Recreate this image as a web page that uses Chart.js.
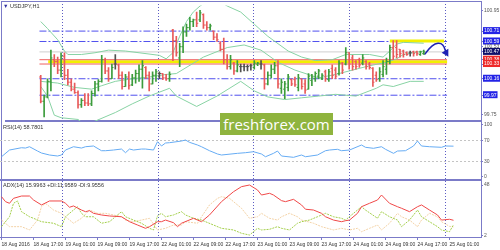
<!DOCTYPE html>
<html><head><meta charset="utf-8">
<script src="https://cdn.jsdelivr.net/npm/chart.js@4.4.0/dist/chart.umd.min.js"></script>
<style>
html,body{margin:0;padding:0;background:#fff;}
#wrap{position:relative;width:500px;height:250px;overflow:hidden;background:#fff;}
canvas{position:absolute;left:0;top:0;}
.lbl{position:absolute;font-family:'Liberation Sans',Arial,sans-serif;font-size:5.5px;line-height:7px;color:#333;white-space:nowrap;z-index:5;}
#wm{position:absolute;left:220px;top:113px;width:113px;height:22px;background:#8fb43e;color:#fff;font-family:'Open Sans',sans-serif;font-size:15px;line-height:22px;text-align:center;z-index:6;}
</style></head>
<body><div id="wrap">
<canvas id="c0" width="500" height="250"></canvas>
<canvas id="c1" width="500" height="250"></canvas>
<canvas id="c2" width="500" height="250"></canvas>
<canvas id="c3" width="500" height="250"></canvas>
<div class="lbl" style="left:3px;top:3px"><span style="color:#3030a0">▼</span> USDJPY,H1</div>
<div class="lbl" style="left:3px;top:124px">RSI(14) 58.7801</div>
<div class="lbl" style="left:3px;top:182px">ADX(14) 15.9963 +DI:11.9589 -DI:9.9556</div>
<div id="wm">freshforex.com</div>
</div>
<script>
// ---------- DATA ----------
const opens = [
100.18,99.90,99.95,100.13,100.38,100.36,100.26,100.42,100.20,100.12,
100.04,100.00,99.86,99.91,99.88,99.87,99.99,100.10,100.13,100.38,
100.25,100.16,100.33,100.32,100.20,100.07,100.18,100.09,100.17,100.22,
100.27,100.29,100.20,100.10,100.20,100.22,100.22,100.17,100.16,100.72,
100.60,100.40,100.53,100.70,100.75,100.82,100.84,100.84,100.90,100.78,
100.75,100.71,100.64,100.57,100.50,100.38,100.30,100.34,100.25,100.30,
100.30,100.30,100.31,100.29,100.33,100.33,100.32,100.10,100.20,100.27,
100.31,100.05,100.04,100.06,100.15,100.15,100.06,100.16,100.10,100.04,
100.14,100.16,100.19,100.16,100.24,100.15,100.28,100.26,100.22,100.34,
100.33,100.46,100.40,100.36,100.38,100.34,100.36,100.33,100.28,100.20,
100.16,100.21,100.27,100.36,100.52,100.52,100.50,100.48,100.46,100.46,
100.47,100.47,100.44,100.45];
const highs = [
100.20,99.97,100.16,100.49,100.44,100.41,100.46,100.46,100.27,100.16,
100.11,100.02,99.93,99.99,99.99,100.02,100.13,100.15,100.43,100.40,
100.29,100.33,100.44,100.33,100.24,100.21,100.24,100.21,100.26,100.32,
100.37,100.30,100.24,100.24,100.27,100.24,100.22,100.21,100.24,100.73,
100.65,100.57,100.76,100.79,100.87,100.85,100.93,100.95,100.91,100.82,
100.79,100.71,100.68,100.59,100.63,100.44,100.43,100.35,100.37,100.33,
100.33,100.32,100.33,100.37,100.35,100.37,100.33,100.24,100.32,100.35,
100.37,100.16,100.13,100.21,100.16,100.18,100.21,100.16,100.15,100.22,
100.21,100.24,100.27,100.22,100.26,100.27,100.32,100.29,100.37,100.35,
100.52,100.46,100.43,100.37,100.40,100.44,100.37,100.35,100.29,100.24,
100.29,100.37,100.40,100.55,100.60,100.60,100.50,100.49,100.47,100.48,
100.48,100.48,100.48,100.49];
const lows = [
99.88,99.72,99.94,100.02,100.30,100.22,100.18,100.15,100.09,100.02,
99.99,99.82,99.83,99.85,99.85,99.85,99.96,100.02,100.12,100.22,
100.13,100.16,100.27,100.16,100.04,100.07,100.04,100.08,100.11,100.13,
100.05,100.16,100.02,100.10,100.13,100.16,100.15,100.14,100.13,100.37,
100.42,100.30,100.46,100.65,100.72,100.76,100.76,100.82,100.74,100.72,
100.72,100.61,100.59,100.48,100.33,100.27,100.27,100.21,100.24,100.24,
100.25,100.25,100.26,100.27,100.31,100.27,100.04,100.09,100.17,100.22,
100.05,99.99,99.93,100.02,100.08,100.07,100.02,100.04,99.99,100.04,
100.08,100.13,100.16,100.15,100.13,100.13,100.16,100.16,100.20,100.22,
100.32,100.27,100.26,100.27,100.29,100.32,100.27,100.27,100.07,100.13,
100.13,100.18,100.21,100.33,100.38,100.40,100.41,100.41,100.43,100.42,
100.42,100.43,100.43,100.44];
const closes = [
99.90,99.95,100.13,100.40,100.36,100.26,100.42,100.20,100.12,100.04,
100.00,99.86,99.91,99.88,99.87,99.99,100.10,100.13,100.38,100.25,
100.16,100.29,100.33,100.20,100.07,100.18,100.08,100.17,100.22,100.27,
100.31,100.20,100.10,100.20,100.24,100.22,100.17,100.16,100.21,100.60,
100.46,100.53,100.70,100.75,100.82,100.84,100.80,100.92,100.78,100.75,
100.77,100.64,100.61,100.50,100.38,100.30,100.38,100.25,100.32,100.30,
100.30,100.30,100.31,100.34,100.34,100.33,100.10,100.20,100.27,100.31,
100.10,100.12,100.10,100.18,100.10,100.09,100.17,100.07,100.03,100.19,
100.18,100.22,100.25,100.20,100.16,100.24,100.20,100.19,100.34,100.26,
100.46,100.33,100.30,100.30,100.32,100.40,100.30,100.29,100.12,100.15,
100.24,100.30,100.36,100.52,100.42,100.44,100.45,100.44,100.44,100.46,
100.45,100.45,100.47,100.47];

// Bollinger bands [bar, price]
const bbUpper = [[0,100.82],[2,100.74],[5,100.61],[7,100.48],[8,100.44],[12,100.44],[16,100.46],[20,100.49],[25,100.48],[29,100.46],[35,100.43],[37,100.39],[39,100.46],[41,100.65],[43,100.82],[45,100.93],[47,101.00],[49,101.05],[52,101.07],[55,101.00],[59,100.93],[63,100.79],[67,100.65],[73,100.48],[77,100.41],[81,100.37],[86,100.38],[90,100.44],[97,100.44],[101,100.41],[103,100.48],[105,100.56],[107,100.58],[113,100.57]];
const bbMiddle = [[0,100.13],[5,100.11],[10,100.06],[15,100.04],[18,100.08],[22,100.13],[27,100.16],[32,100.18],[37,100.21],[40,100.22],[48,100.41],[55,100.52],[60,100.55],[65,100.49],[70,100.35],[75,100.26],[82,100.17],[87,100.21],[92,100.26],[97,100.31],[102,100.35],[105,100.39],[107,100.44],[113,100.48]];
const bbLower = [[0,100.07],[2,99.96],[4,99.74],[6,99.71],[11,99.69],[13,99.63],[16,99.67],[22,99.77],[27,99.87],[32,99.96],[38,100.05],[40,99.96],[46,99.84],[52,99.96],[59,100.13],[63,100.02],[67,99.95],[72,99.92],[77,99.94],[82,99.96],[87,99.98],[93,99.96],[99,100.05],[101,100.09],[104,100.07],[109,100.13],[113,100.13]];

// RSI(14) [bar, value]
const rsi = [[0,38.6],[2,51.4],[5,55.8],[6,55.2],[7,57.7],[9,49.5],[10,45.7],[12,41.9],[14,40.0],[15,41.9],[16,51.4],[18,57.7],[20,55.2],[21,57.7],[23,59.1],[25,50.1],[26,50.1],[28,51.4],[30,53.3],[31,46.3],[32,53.3],[33,51.4],[35,53.3],[36,53.3],[38,51.4],[39,67.3],[40,59.1],[41,64.8],[42,65.4],[45,68.6],[46,70.5],[47,66.1],[49,61.0],[50,57.7],[52,50.1],[54,43.8],[55,41.9],[59,45.1],[61,46.3],[63,48.2],[65,43.8],[66,38.6],[68,45.1],[69,49.5],[70,40.0],[73,37.5],[75,41.9],[76,38.6],[79,41.9],[81,50.1],[82,51.4],[84,52.8],[85,50.1],[87,51.4],[90,61.0],[91,56.6],[93,54.7],[95,57.7],[96,52.8],[98,45.1],[99,49.5],[101,50.1],[103,59.1],[104,68.6],[105,59.1],[107,57.7],[110,56.6],[111,59.1],[113,58.78]];

// ADX(14), +DI, -DI [bar, value]
const adx = [[0,37.4],[1,32.9],[2,31.4],[3,35.9],[5,38.0],[7,38.0],[8,34.4],[10,29.9],[12,33.5],[15,33.5],[16,31.4],[17,27.8],[18,29.0],[20,25.3],[21,23.8],[22,24.7],[23,22.3],[25,20.8],[27,19.9],[30,19.2],[32,14.7],[34,11.7],[36,8.7],[37,10.2],[39,14.7],[40,14.7],[41,16.2],[43,13.8],[44,10.2],[45,13.3],[48,17.8],[49,16.2],[50,14.7],[52,20.8],[55,32.9],[58,41.9],[60,46.5],[62,48.0],[64,43.5],[65,38.9],[67,40.5],[68,38.9],[70,33.8],[71,32.9],[73,35.0],[75,29.9],[76,26.0],[78,25.3],[80,22.3],[81,19.2],[83,16.2],[85,14.7],[86,15.6],[87,16.2],[89,22.3],[90,28.3],[92,31.4],[94,34.4],[95,38.9],[97,31.4],[99,28.3],[100,26.9],[102,23.8],[104,28.3],[105,29.9],[107,25.3],[109,20.8],[110,16.2],[112,16.9],[113,16.0]];
const plusDI = [[0,10.2],[2,19.2],[3,31.4],[4,33.5],[5,23.8],[7,19.2],[8,17.8],[10,14.7],[13,13.3],[15,10.2],[16,19.2],[18,25.3],[19,28.3],[20,22.3],[21,19.2],[23,19.2],[25,13.3],[27,14.7],[30,23.8],[31,19.2],[33,16.2],[35,13.3],[37,8.7],[38,7.2],[39,20.0],[40,22.3],[41,19.2],[43,20.8],[45,23.8],[46,20.8],[48,17.8],[50,16.2],[53,11.7],[55,8.7],[58,7.2],[60,4.2],[62,2.6],[64,8.7],[65,7.2],[67,7.8],[69,10.2],[70,8.7],[72,7.2],[74,13.3],[75,14.7],[77,16.2],[79,19.2],[81,22.3],[83,19.2],[85,17.8],[86,16.2],[88,22.3],[90,28.3],[91,25.3],[94,17.8],[95,23.8],[97,19.2],[99,16.2],[100,10.2],[102,16.2],[104,25.3],[105,19.2],[107,14.7],[109,10.2],[110,7.2],[112,5.6],[113,11.96]];
const minusDI = [[0,16.2],[2,10.2],[5,10.2],[7,7.2],[9,16.2],[10,28.3],[11,31.4],[13,25.3],[15,22.3],[16,19.2],[18,13.3],[20,17.8],[22,25.3],[24,22.3],[26,22.3],[28,20.8],[30,19.2],[31,16.2],[33,14.7],[35,16.2],[37,17.8],[39,7.2],[41,8.7],[43,11.7],[45,11.7],[46,14.7],[49,13.3],[50,19.2],[52,29.9],[54,35.9],[55,37.4],[57,35.9],[60,26.9],[62,17.8],[64,19.2],[65,22.3],[67,17.8],[69,16.2],[70,19.2],[72,22.3],[74,19.2],[75,16.2],[78,13.3],[80,10.2],[83,7.2],[85,8.7],[87,7.2],[89,8.7],[90,5.6],[92,8.7],[94,11.7],[95,7.2],[97,13.3],[99,22.3],[100,19.2],[102,16.2],[104,10.2],[105,16.2],[107,22.3],[109,19.2],[110,14.7],[112,10.5],[113,9.96]];

// Levels and projection
const blueLevels = [100.71, 100.59, 100.16, 99.97];
const priceLine = 100.47;
const redLevels = [100.38, 100.33];
const supportZone = 100.355;
const resistZone = 100.595;
const projection = [[113.2,100.44],[115.5,100.54],[117.2,100.57],[118.6,100.55],[119.6,100.46]];

// Axis ticks & labels
const mainTicks = [100.95, 100.71, 100.59, 100.53, 100.47, 100.38, 100.33, 100.16, 99.97, 99.75];
const rsiTicks = [100, 70, 30, 0];
const rsiLevels = [70, 30];
const adxTicks = [48, 2];
const daySeparatorBars = [15, 39, 63, 87, 111];
const xTickBars = [0,8,16,24,32,40,48,56,64,72,80,88,96,104,112];
const xTickLabels = ['18 Aug 2016','18 Aug 17:00','19 Aug 01:00','19 Aug 09:00','19 Aug 17:00','22 Aug 01:00','22 Aug 09:00','22 Aug 17:00','23 Aug 01:00','23 Aug 09:00','23 Aug 17:00','24 Aug 01:00','24 Aug 09:00','24 Aug 17:00','25 Aug 01:00'];

// ---------- STYLE ----------
const FONT = "'Liberation Sans',Arial,sans-serif";
const FS = 5;
const FRAME = '#7b7bc8';
const UP = '#3c9c3c', DN = '#e85a5a', DOJI = '#505050';
const BB = '#88d3a4';
const XMIN = -0.375, XMAX = 119.875;
const bars = opens.map((o, i) => i);
const barColor = i => closes[i] > opens[i] ? UP : (closes[i] < opens[i] ? DN : DOJI);
const fitRight = s => { s.width = 19; s.paddingTop = 0; s.paddingBottom = 0; };
const pts = arr => arr.map(([x, y]) => ({x, y}));

function baseOpts(padding, scales) {
  return {responsive:false, animation:false, events:[], devicePixelRatio:1,
    layout:{padding}, plugins:{legend:{display:false}, tooltip:{enabled:false}},
    elements:{point:{radius:0}, line:{tension:0}}, scales};
}
function hiddenX(extra) {
  return Object.assign({type:'linear', min:XMIN, max:XMAX, position:'bottom',
    ticks:{display:false}, grid:{display:false, drawTicks:false}, border:{display:false}}, extra || {});
}
function hline(v, x0, x1, color, width, dash, order) {
  return {type:'line', data:[{x:x0, y:v}, {x:x1, y:v}], borderColor:color, borderWidth:width,
    borderDash:dash || [], pointRadius:0, order};
}
function rightAxis(min, max, tickVals, extraTicks) {
  return {position:'right', min, max,
    afterBuildTicks: s => { s.ticks = tickVals.map(v => ({value:v})); },
    afterFit: fitRight,
    ticks: Object.assign({autoSkip:false, padding:1, font:{family:FONT, size:FS}, color:'#555'}, extraTicks || {}),
    grid: {drawOnChartArea:false, drawTicks:true, tickLength:2, tickColor:FRAME},
    border: {display:false}};
}

// ---------- c0: frame + day separators ----------
new Chart(document.getElementById('c0'), {
  type:'line', data:{datasets:[]},
  options: baseOpts({top:1, bottom:13, left:0, right:0}, {
    x: {type:'linear', min:XMIN, max:XMAX, position:'bottom',
      afterBuildTicks: s => { s.ticks = daySeparatorBars.map(v => ({value:v})); },
      ticks:{display:false}, grid:{display:true, drawTicks:false, color:'#5c5cc4', lineWidth:1},
      border:{display:false, dash:[1,2]}},
    xt: {type:'linear', min:XMIN, max:XMAX, position:'top', ticks:{display:false},
      grid:{display:false, drawTicks:false}, border:{display:true, color:FRAME, width:1}},
    y: {position:'right', min:0, max:1, afterFit: fitRight, ticks:{display:false},
      grid:{display:false, drawTicks:false}, border:{display:true, color:FRAME, width:1}},
    yl: {position:'left', min:0, max:1, afterFit: s => { s.width = 1; }, ticks:{display:false},
      grid:{display:false, drawTicks:false}, border:{display:true, color:FRAME, width:1}}
  })
});

// ---------- c1: price panel ----------
const boxColor = v => blueLevels.includes(v) ? '#2323e6' : (v === priceLine ? '#10106a' : (redLevels.includes(v) ? '#ee2a2a' : null));
const mainDatasets = [
  {type:'bar', data: bars.map(i => ({x:i, y:[lows[i], highs[i]]})),
    backgroundColor: c => barColor(c.dataIndex), barThickness:1, borderWidth:0, grouped:false, order:0},
  {type:'line', showLine:false, data: bars.map(i => ({x:i, y:opens[i]})), pointStyle:'dash', rotation:180,
    pointRadius:1.6, pointBorderWidth:1, pointBorderColor: c => barColor(c.dataIndex), order:0},
  {type:'line', showLine:false, data: bars.map(i => ({x:i, y:closes[i]})), pointStyle:'dash', rotation:0,
    pointRadius:1.6, pointBorderWidth:1, pointBorderColor: c => barColor(c.dataIndex), order:0},
  {type:'line', data: pts(projection), borderColor:'#1e22b4', borderWidth:1.5, tension:0.45, clip:false,
    pointStyle:'triangle', rotation:150, pointBackgroundColor:'#1e22b4', pointBorderColor:'#1e22b4',
    pointRadius: c => c.dataIndex === projection.length - 1 ? 3 : 0, order:1},
  {type:'line', data: pts(bbUpper), borderColor:BB, borderWidth:1, pointRadius:0, order:2},
  {type:'line', data: pts(bbMiddle), borderColor:BB, borderWidth:1, pointRadius:0, order:2},
  {type:'line', data: pts(bbLower), borderColor:BB, borderWidth:1, pointRadius:0, order:2},
  ...redLevels.map(v => hline(v, XMIN, XMAX, '#f06060', 1, [], 3)),
  hline(supportZone, 2.2, 119.9, '#f2f000', 3, [], 4),
  hline(resistZone, 103, 119, '#f2f000', 3, [], 4),
  ...blueLevels.map(v => hline(v, XMIN, XMAX, '#5050ee', 1, [7,2,2,2], 5)),
  hline(priceLine, XMIN, XMAX, '#cfcfcf', 1, [], 6)
];
new Chart(document.getElementById('c1'), {
  type:'line', data:{datasets: mainDatasets},
  options: baseOpts({top:1, bottom:129, left:0, right:0}, {
    x: hiddenX({border:{display:true, color:FRAME, width:2}}),
    y: rightAxis(99.6722, 101.0056, mainTicks, {
      color: c => boxColor(c.tick.value) ? '#fff' : '#555',
      showLabelBackdrop: true,
      backdropColor: c => boxColor(c.tick.value) || 'rgba(0,0,0,0)',
      backdropPadding: {top:1, bottom:0, left:1, right:1},
      callback: v => v.toFixed(2)})
  })
});

// ---------- c2: RSI ----------
const rsiY = rightAxis(-5.8, 104.9, rsiTicks);
rsiY.grid = {drawOnChartArea:true, drawTicks:true, tickLength:2,
  tickColor: FRAME, color: c => rsiLevels.includes(c.tick && c.tick.value) ? '#c4c4c4' : 'rgba(0,0,0,0)'};
rsiY.border = {display:false, dash:[2,2]};
new Chart(document.getElementById('c2'), {
  type:'line', data:{datasets:[
    {type:'line', data: pts(rsi), borderColor:'#66acf4', borderWidth:1, pointRadius:0}
  ]},
  options: baseOpts({top:122, bottom:70, left:0, right:0}, {
    x: hiddenX({border:{display:true, color:FRAME, width:2}}),
    y: rsiY
  })
});

// ---------- c3: ADX ----------
new Chart(document.getElementById('c3'), {
  type:'line', data:{datasets:[
    {type:'line', data: pts(adx), borderColor:'#f04848', borderWidth:1, pointRadius:0, order:0},
    {type:'line', data: pts(plusDI), borderColor:'#a4cf4c', borderWidth:1, borderDash:[2,1], pointRadius:0, order:1},
    {type:'line', data: pts(minusDI), borderColor:'#f3d2a6', borderWidth:1, borderDash:[2,1], pointRadius:0, order:2}
  ]},
  options: baseOpts({top:181, bottom:0, left:0, right:0}, {
    x: {type:'linear', min:XMIN, max:XMAX, position:'bottom',
      afterBuildTicks: s => { s.ticks = xTickBars.map(v => ({value:v})); },
      afterFit: s => { s.height = 13; s.paddingLeft = 0; s.paddingRight = 0; },
      ticks:{autoSkip:false, maxRotation:0, minRotation:0, align:'start', padding:2,
        font:{family:FONT, size:FS}, color:'#333', callback:(v, i) => xTickLabels[i]},
      grid:{drawOnChartArea:false, drawTicks:true, tickLength:3, tickColor:FRAME},
      border:{display:true, color:FRAME, width:1}},
    y: rightAxis(0.82, 51.63, adxTicks)
  })
});
</script>
</body></html>
